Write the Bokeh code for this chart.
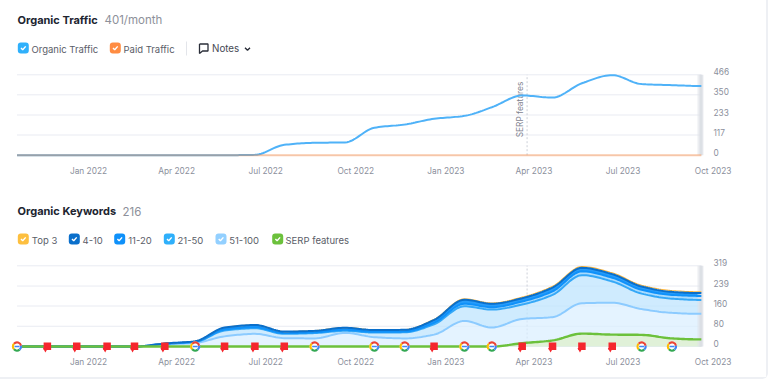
from datetime import datetime
import numpy as np
from bokeh.core.properties import value
from bokeh.embed import file_html
from bokeh.layouts import column
from bokeh.models import FixedTicker, LinearAxis, Range1d
from bokeh.plotting import figure
from bokeh.resources import INLINE

# ---------- data ----------
months = ["2021-10-20","2021-11-20","2021-12-20","2022-01-20","2022-02-17","2022-03-20",
          "2022-04-20","2022-05-20","2022-06-20","2022-07-20","2022-08-20","2022-09-20",
          "2022-10-20","2022-11-20","2022-12-20","2023-01-20","2023-02-17","2023-03-20",
          "2023-04-20","2023-05-20","2023-06-20","2023-07-20","2023-08-20","2023-09-19"]
organic = [0,0,0,0,0,0,0,0,2,60,72,74,159,178,211,228,278,346,334,417,464,412,406,401]
paid = [0]*24
top3    = [0,0,0,0,0,0,0,0,0,0,1,1,1,1,2,3,3,4,5,5,5,5,5,5]
k4_10   = [0,0,0,0,0,1,2,8,9,6,6,8,7,7,11,16,14,13,15,14,14,13,12,11]
k11_20  = [0,0,0,0,0,0,1,4,4,3,3,4,3,3,6,10,9,12,14,15,15,15,15,16]
k21_50  = [0,0,0,0,0,3,4,23,22,17,21,8,18,24,41,58,71,57,88,111,84,61,56,55]
k51_100 = [0,0,0,0,0,8,14,40,50,33,32,54,37,32,47,101,75,109,116,171,173,148,133,129]
serp    = [0,0,0,0,0,0,0,0,0,0,0,0,0,0,0,0,0,13,24,51,47,46,32,28]
flag_months = [1,2,3,4,5,7,8,9,14,17,18,19,20]
google_months = [0,6,10,12,13,15,16,21,22]
note_date = "2023-03-25"
note_text = "SERP features"
traffic_ticks = [0,117,233,350,466]
keyword_ticks = [0,80,160,239,319]
date_ticks = ["2022-01-01","2022-04-01","2022-07-01","2022-10-01","2023-01-01","2023-04-01","2023-07-01","2023-10-01"]
date_labels = ["Jan 2022","Apr 2022","Jul 2022","Oct 2022","Jan 2023","Apr 2023","Jul 2023","Oct 2023"]

# ---------- styling / helpers ----------
FONT = "Inter"
W = 766
FRAME_L = 10
FRAME_R = 713
GRID = "#e9ebf2"
AXIS_TXT = "#8b8f9c"
DARK = "#20242f"
GRAY = "#8d909a"
LEG = "#5a5d68"

DAY = 86400000.0
def ms(s):
    return datetime.strptime(s, "%Y-%m-%d").timestamp() * 1000.0
J0 = ms("2022-01-01")
PX_DAY = 0.979
def px2ms(px):
    return J0 + (px - 88) / PX_DAY * DAY

X = np.array([ms(m) for m in months])

def curve(x, y, n=14):
    """Smooth monotone drawing path through the read values."""
    x = np.asarray(x, float); y = np.asarray(y, float)
    h = np.diff(x); d = np.diff(y) / h
    t = np.zeros_like(y)
    for i in range(1, len(y) - 1):
        if d[i-1] * d[i] > 0:
            w1 = 2*h[i] + h[i-1]; w2 = h[i] + 2*h[i-1]
            t[i] = (w1 + w2) / (w1/d[i-1] + w2/d[i])
    xs, ys = [], []
    for i in range(len(h)):
        s = np.linspace(0, 1, n, endpoint=False)
        a = (1 + 2*s)*(1-s)**2; b = s*(1-s)**2; c = s*s*(3-2*s); e = s*s*(s-1)
        xs.append(x[i] + s*h[i])
        ys.append(a*y[i] + b*h[i]*t[i] + c*y[i+1] + e*h[i]*t[i+1])
    xs.append([x[-1]]); ys.append([y[-1]])
    return np.concatenate(xs), np.concatenate(ys)

def chart(height, border_top, border_bottom, frame_top, frame_bottom, zero_px, top_px, ticks):
    scale = (zero_px - top_px) / ticks[-1]
    y0 = (zero_px - frame_bottom)/scale
    y1 = (zero_px - frame_top)/scale
    p = figure(width=W, height=height, output_backend="svg", toolbar_location=None,
               x_axis_type="datetime", y_axis_location=None,
               x_range=Range1d(px2ms(FRAME_L), px2ms(FRAME_R)),
               y_range=Range1d(y0, y1),
               min_border_left=FRAME_L, min_border_right=W - FRAME_R,
               min_border_top=border_top, min_border_bottom=border_bottom,
               outline_line_color=None)
    p.grid.visible = False
    # tick labels sit 3px above their grid lines, as in the original
    p.extra_y_ranges = {"labels": Range1d(y0 - 3/scale, y1 - 3/scale)}
    ya = LinearAxis(y_range_name="labels")
    p.add_layout(ya, "right")
    xa = p.xaxis[0]
    xa.ticker = FixedTicker(ticks=[ms(d) for d in date_ticks])
    xa.major_label_overrides = {ms(d): l for d, l in zip(date_ticks, date_labels)}
    ya.ticker = FixedTicker(ticks=ticks)
    ya.major_label_overrides = {t: str(t) for t in ticks}
    for a in (xa, ya):
        a.axis_line_color = None
        a.major_tick_line_color = None
        a.minor_tick_line_color = None
        a.major_tick_in = 0
        a.major_tick_out = 0
        a.minor_tick_in = 0
        a.minor_tick_out = 0
        a.major_label_text_font = FONT
        a.major_label_text_font_size = "8.3px"
        a.major_label_text_color = AXIS_TXT
    xa.major_label_standoff = 2
    ya.major_label_standoff = 0
    p.segment(x0=[X[0]]*len(ticks), x1=[X[-1]]*len(ticks), y0=ticks, y1=ticks, line_color=GRID, line_width=1)
    return p, scale

def strip(p, y0, y1):
    p.quad(left=[px2ms(697)], right=[px2ms(703)], bottom=[y0], top=[y1], fill_color="#dfe2e8", fill_alpha=0.6, line_color=None)
    p.quad(left=[px2ms(699)], right=[px2ms(702)], bottom=[y0], top=[y1], fill_color="#d9dde3", fill_alpha=0.85, line_color=None)

def note(p, y1):
    p.segment(x0=[ms(note_date)], x1=[ms(note_date)], y0=[0], y1=[y1], line_color="#ccd0d8", line_width=1, line_dash="2 2")

def header(top, bottom):
    # the column lines header frames up with the chart frames
    h = figure(width=W, height=bottom - top, output_backend="svg", toolbar_location=None,
               x_range=Range1d(FRAME_L, FRAME_R), y_range=Range1d(bottom, top),
               x_axis_type=None, y_axis_type=None, outline_line_color=None,
               min_border=0, min_border_left=FRAME_L, min_border_right=W - FRAME_R, min_border_top=0, min_border_bottom=0)
    h.grid.visible = False
    return h

def txt(h, x, y, s, size, color, bold=False):
    h.text(x=[x], y=[y], text=[s], text_font=value(FONT), text_font_size=f"{size}px",
           text_color=color, text_baseline="middle", text_align="left",
           text_font_style="bold" if bold else "normal")

def box(h, x, yc, color):
    h.quad(left=[x], right=[x + 11], top=[yc - 5.5], bottom=[yc + 5.5], fill_color=color,
           line_color=None, border_radius=3)
    h.line(x=[x + 3.2, x + 4.9, x + 7.9], y=[yc + 0.1, yc + 1.8, yc - 1.6], line_color="white", line_width=1.4)

# ---------- header 1 ----------
h1 = header(0, 66)
txt(h1, 17, 19.5, "Organic Traffic", 11, DARK, True)
txt(h1, 104, 19.5, "401/month", 11.5, GRAY)
box(h1, 17.3, 47.5, "#2fb0fb"); txt(h1, 31, 48.5, "Organic Traffic", 9.5, LEG)
box(h1, 109.3, 47.5, "#ff8c42"); txt(h1, 123, 48.5, "Paid Traffic", 9.5, LEG)
h1.segment(x0=[186], x1=[186], y0=[41], y1=[55], line_color="#e3e5ea", line_width=1)
h1.line(x=[199,207.5,207.5,202,199,199], y=[43.5,43.5,50.5,50.5,53,43.5], line_color="#2a2e39", line_width=1.3)
txt(h1, 211.5, 48, "Notes", 9.8, "#454853")
h1.line(x=[244.5,247,249.5], y=[47.2,49.7,47.2], line_color="#2a2e39", line_width=1.4)

# ---------- chart 1 ----------
c1, s1 = chart(122, 4, 25, 70, 163, 154.7, 74.3, traffic_ticks)
note(c1, traffic_ticks[-1])
c1.text(x=[ms(note_date)], y=[265], x_offset=[-7], text=[note_text], angle=[np.pi/2],
        text_font=value(FONT), text_font_size="8.3px", text_color="#7f838f",
        text_align="center", text_baseline="middle")
strip(c1, 0, traffic_ticks[-1])
xo, yo = curve(X, organic)
c1.line(xo, yo, line_color="#4fb2f8", line_width=2)
c1.line(X, paid, line_color="#ff8a3d", line_alpha=0.42, line_width=2)

# ---------- header 2 ----------
h2 = header(188, 250)
txt(h2, 17, 210.5, "Organic Keywords", 11, DARK, True)
txt(h2, 122, 210.5, "216", 11.5, GRAY)
legend = [(17.3, "#fdbf3f", "Top 3", 31.3), (68.3, "#0a6fcb", "4-10", 82), (113.7, "#0f91fa", "11-20", 127.7),
          (163.3, "#2fb0fb", "21-50", 177), (215, "#93d0ff", "51-100", 228.7), (271.7, "#6cc13c", "SERP features", 285)]
for bx, col, lab, tx in legend:
    box(h2, bx, 238.5, col)
    txt(h2, tx, 239.5, lab, 9.5, LEG)

# ---------- chart 2 ----------
c2, s2 = chart(127, 8, 23, 258, 354, 346, 265.3, keyword_ticks)
note(c2, keyword_ticks[-1])
c51 = np.array(k51_100, float)
c21 = c51 + k21_50
c11 = c21 + k11_20
c4 = c11 + k4_10
c3 = c4 + top3
xs, y51 = curve(X, c51)
_, y21 = curve(X, c21); _, y11 = curve(X, c11); _, y4 = curve(X, c4); _, y3 = curve(X, c3)
_, yg = curve(X, serp)
zero = np.zeros_like(xs)
c2.varea(xs, zero, y51, fill_color="#d8eeff", fill_alpha=0.7)
c2.varea(xs, y51, y21, fill_color="#bfe4fd", fill_alpha=0.75)
c2.varea(xs, y21, y11, fill_color="#9ed6fd", fill_alpha=0.9)
c2.varea(xs, y11, y4, fill_color="#0f91fa", fill_alpha=0.9)
c2.varea(xs, zero, yg, fill_color="#dff0d6", fill_alpha=0.95)
strip(c2, 0, keyword_ticks[-1])
c2.line(xs, y51, line_color="#8ccbff", line_width=2)
c2.line(xs, y21, line_color="#35a8f7", line_width=2)
c2.line(xs, y11, line_color="#0f91fa", line_width=2)
c2.line(xs, y3, line_color="#fdb53c", line_width=1.2)
c2.line(xs, y4, line_color="#0a6fcb", line_width=2)
c2.line(xs, yg, line_color="#6cc13c", line_width=2.4)

fx = X[flag_months]
c2.scatter(fx - 2.0*DAY, [-12]*len(fx), marker="inverted_triangle", size=5, fill_color="#f5262d", line_color=None)
c2.scatter(fx, [1]*len(fx), marker="square", size=7.5, fill_color="#f5262d", line_color=None)

gx = X[google_months]
gy = [0]*len(gx)
c2.scatter(gx, gy, marker="circle", size=10, fill_color="white", line_color=None)
for a0, a1, col in [(0.2, 2.4, "#ea4335"), (2.4, 3.9, "#fbbc05"), (3.9, 5.4, "#34a853"), (5.4, 6.483, "#4285f4")]:
    c2.annular_wedge(gx, gy, inner_radius=3.0, outer_radius=5.2, inner_radius_units="screen",
                     outer_radius_units="screen", start_angle=a0, end_angle=a1,
                     fill_color=col, line_color=None)
c2.scatter(gx, gy, marker="dash", size=5, line_color="#4285f4", line_width=1.6)

page = column(h1, c1, h2, c2, spacing=0,
              styles={"border-right": "2px solid #eef0f4", "border-bottom": "2px solid #eef0f4",
                      "border-bottom-right-radius": "6px"})
open("out.html", "w").write(file_html(page, INLINE))
